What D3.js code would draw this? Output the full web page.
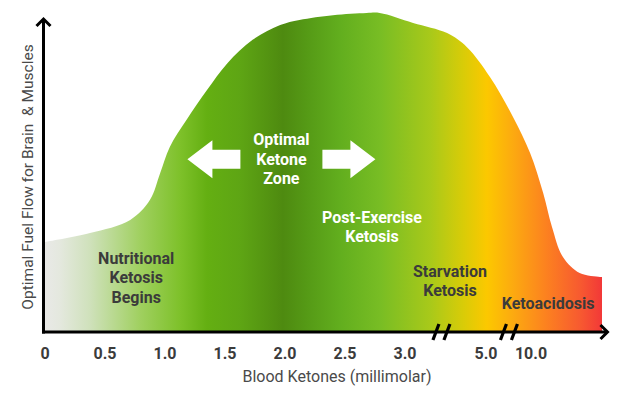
<!DOCTYPE html>
<html>
<head>
<meta charset="utf-8">
<script src="https://cdn.jsdelivr.net/npm/d3@7"></script>
<style>
	html, body { margin: 0; padding: 0; background: #fff; }
	svg { display: block; font-family: Roboto, "Noto Sans", sans-serif; }
</style>
</head>
<body>
<div id="chart"></div>
<script>
// blood ketones (mmol/L) and relative fuel flow
const ketones  = [0, 0.375, 0.71, 0.875, 0.96, 1.04, 1.18, 1.35, 1.52, 1.73, 1.96, 2.12, 2.4, 2.68, 2.79, 3.2, 4.04, 4.53, 5.44, 8.0, 9.9, 11.2, 12.07, 13.15, 14.8, 16.8, 17];
const fuelFlow = [28.1, 30.9, 35, 41.3, 49.7, 57.8, 66.3, 75.6, 84, 91.3, 95.9, 97.5, 99, 99.7, 99.7, 96.6, 93.4, 89, 79.7, 67.2, 55.9, 43.4, 32.8, 23.4, 18.4, 17.2, 17.2];

const tickValues = [0, 0.5, 1, 1.5, 2, 2.5, 3, 5, 10];
const tickLabels = ["0", "0.5", "1.0", "1.5", "2.0", "2.5", "3.0", "5.0", "10.0"];
const axisBreaks = [3.9, 7.55];

const zoneNames = [
	["Nutritional", "Ketosis", "Begins"],
	["Optimal", "Ketone", "Zone"],
	["Post-Exercise", "Ketosis"],
	["Starvation", "Ketosis"],
	["Ketoacidosis"]
];
const zoneKetones = [0.76, 1.97, 2.725, 4.11, 11.68];
const zoneFlow    = [17, 54, 32.8, 16, 8.8];

const width = 638, height = 395;

const x = d3.scaleLinear()
	.domain([0, 3, 5, 10, 17])
	.range([45, 405, 486, 531, 602]);
const y = d3.scaleLinear()
	.domain([0, 100])
	.range([332, 12]);

const svg = d3.select("#chart").append("svg")
	.attr("width", width)
	.attr("height", height);

// horizontal colour band
const stops = [
	[45, "#e9e9e7"], [60, "#e4e8de"], [90, "#cfe1bb"], [140, "#a0d060"],
	[180, "#7ec12a"], [207, "#64af12"], [240, "#5ea514"], [283, "#4e8a10"],
	[307, "#559a16"], [340, "#62ae1e"], [380, "#78bd24"], [430, "#a8c91a"],
	[463, "#d8cc08"], [487, "#fcc800"], [513, "#fcaa10"], [547, "#fc8020"],
	[580, "#f75a30"], [602, "#f23838"]
];
const grad = svg.append("defs").append("linearGradient")
	.attr("id", "band")
	.attr("gradientUnits", "userSpaceOnUse")
	.attr("x1", x(0)).attr("x2", x(17))
	.attr("y1", 0).attr("y2", 0);
grad.selectAll("stop")
	.data(stops)
	.join("stop")
	.attr("offset", d => (d[0] - x(0)) / (x(17) - x(0)))
	.attr("stop-color", d => d[1]);

const area = d3.area()
	.x((d, i) => x(ketones[i]))
	.y0(y(0))
	.y1(d => y(d))
	.curve(d3.curveCatmullRom.alpha(0.5));

svg.append("path")
	.datum(fuelFlow)
	.attr("fill", "url(#band)")
	.attr("d", area);

// zone labels
const zoneColor = ["#3b3b3b", "#fff", "#fff", "#3b3b3b", "#3b3b3b"];
zoneNames.forEach((lines, i) => {
	const t = svg.append("text")
		.attr("text-anchor", "middle")
		.attr("font-weight", 700)
		.attr("font-size", 16)
		.attr("fill", zoneColor[i]);
	const cy = y(zoneFlow[i]) - (lines.length - 1) * 19.5 / 2;
	lines.forEach((s, j) => {
		t.append("tspan")
			.attr("x", x(zoneKetones[i]))
			.attr("y", cy + j * 19.5)
			.attr("dy", "0.35em")
			.text(s);
	});
});

// white arrows around the optimal zone
const ax = x(zoneKetones[1]), ay = y(zoneFlow[1]);
const arrowShape = s => [
	[s * 41, -9.5], [s * 69, -9.5], [s * 69, -19], [s * 94, 0],
	[s * 69, 19], [s * 69, 9.5], [s * 41, 9.5]
];
[-1, 1].forEach(s => {
	svg.append("polygon")
		.attr("fill", "#fff")
		.attr("points", arrowShape(s).map(p => [ax + p[0], ay + p[1]].join(",")).join(" "));
});

// axes
const axes = svg.append("g")
	.attr("stroke", "#000")
	.attr("stroke-width", 3)
	.attr("fill", "none")
	.attr("stroke-linecap", "butt");
axes.append("line")
	.attr("x1", 43.5).attr("x2", 43.5)
	.attr("y1", y(0) + 1.5).attr("y2", 19);
axes.append("path")
	.attr("stroke-linejoin", "miter")
	.attr("d", `M36.5,26L43.5,19L50.5,26`);
axes.append("line")
	.attr("x1", 42).attr("x2", 607)
	.attr("y1", y(0)).attr("y2", y(0));
axes.append("path")
	.attr("d", `M600.5,325L607.5,332L600.5,339`);

// axis breaks
axisBreaks.forEach(v => {
	[-5.5, 5.5].forEach(o => {
		axes.append("line")
			.attr("stroke-width", 3.2)
			.attr("x1", x(v) + o - 3).attr("y1", y(0) + 8)
			.attr("x2", x(v) + o + 3).attr("y2", y(0) - 8);
	});
});

// tick labels
svg.append("g")
	.selectAll("text")
	.data(tickValues)
	.join("text")
	.attr("x", d => x(d))
	.attr("y", 353)
	.attr("dy", "0.35em")
	.attr("text-anchor", "middle")
	.attr("font-weight", 700)
	.attr("font-size", 16)
	.attr("fill", "#3b3b3b")
	.text((d, i) => tickLabels[i]);

svg.append("text")
	.attr("x", 337)
	.attr("y", 376)
	.attr("dy", "0.35em")
	.attr("text-anchor", "middle")
	.attr("font-size", 16)
	.attr("fill", "#4a4a4a")
	.text("Blood Ketones (millimolar)");

svg.append("text")
	.attr("transform", "translate(28,177) rotate(-90)")
	.attr("dy", "0.35em")
	.attr("text-anchor", "middle")
	.attr("font-size", 15.5)
	.attr("fill", "#4a4a4a")
	.style("white-space", "pre")
	.text("Optimal Fuel Flow for Brain  & Muscles");
</script>
</body>
</html>
